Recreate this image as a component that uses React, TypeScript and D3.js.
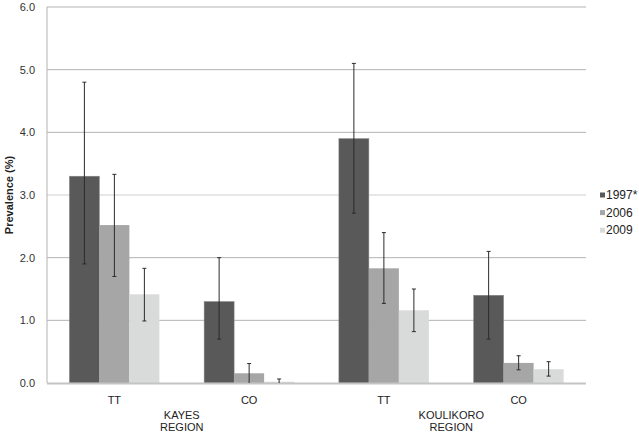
import React from "react";
import * as d3 from "d3";

const categories = ["KAYES TT", "KAYES CO", "KOULIKORO TT", "KOULIKORO CO"];
const catLabels = ["TT", "CO", "TT", "CO"];
const regions = [
  { name: ["KAYES", "REGION"], cats: [0, 1] },
  { name: ["KOULIKORO", "REGION"], cats: [2, 3] },
];
const seriesNames = ["1997*", "2006", "2009"];
const seriesColors = ["#595959", "#a6a6a6", "#d9dada"];
const values1997 = [3.3, 1.3, 3.9, 1.4];
const values2006 = [2.52, 0.155, 1.83, 0.32];
const values2009 = [1.415, 0.02, 1.16, 0.22];
const errLow1997 = [1.9, 0.7, 2.71, 0.7];
const errHigh1997 = [4.8, 2.0, 5.1, 2.1];
const errLow2006 = [1.7, 0.0, 1.27, 0.21];
const errHigh2006 = [3.33, 0.31, 2.4, 0.435];
const errLow2009 = [0.99, 0.0, 0.82, 0.11];
const errHigh2009 = [1.83, 0.064, 1.5, 0.34];
const yTicks = [0, 1, 2, 3, 4, 5, 6];

const series = [
  { name: seriesNames[0], values: values1997, lo: errLow1997, hi: errHigh1997 },
  { name: seriesNames[1], values: values2006, lo: errLow2006, hi: errHigh2006 },
  { name: seriesNames[2], values: values2009, lo: errLow2009, hi: errHigh2009 },
];

const W = 639;
const H = 435;
const left = 47;
const right = 586;
const top = 7;
const bottom = 383;

export default function App() {
  const x0 = d3.scaleBand<string>().domain(categories).range([left, right]).paddingInner(0).paddingOuter(0);
  const groupW = 90;
  const x1 = d3
    .scaleBand<string>()
    .domain(seriesNames)
    .range([(x0.bandwidth() - groupW) / 2, (x0.bandwidth() + groupW) / 2]);
  const y = d3.scaleLinear().domain([0, 6]).range([bottom, top]);
  const font = "'Liberation Sans', Arial, sans-serif";

  return (
    <svg
      width={W}
      height={H}
      style={{ position: "absolute", left: 0, top: 0, display: "block", background: "#fff" }}
      fontFamily={font}
    >
      {/* gridlines */}
      {yTicks.filter((t) => t > 0).map((t) => (
        <line key={t} x1={left} x2={right} y1={y(t)} y2={y(t)} stroke={t === 3 ? "#cfcfcf" : "#b3b3b3"} strokeWidth={1} />
      ))}
      {/* y axis */}
      <line x1={left} x2={left} y1={y(6)} y2={bottom} stroke="#b3b3b3" strokeWidth={1} />
      {yTicks.map((t) => (
        <text key={t} x={35} y={y(t)} dy="0.35em" textAnchor="end" fontSize={11} fill="#333">
          {t.toFixed(1)}
        </text>
      ))}
      <text
        transform={`translate(13,${(top + bottom) / 2}) rotate(-90)`}
        textAnchor="middle"
        fontSize={11}
        fontWeight="bold"
        fill="#222"
      >
        Prevalence (%)
      </text>
      {/* bars */}
      {categories.map((c, ci) => (
        <g key={c} transform={`translate(${x0(c)},0)`}>
          {series.map((s, si) => (
            <rect
              key={s.name}
              x={x1(s.name)}
              y={y(s.values[ci])}
              width={x1.bandwidth()}
              height={bottom - y(s.values[ci])}
              fill={seriesColors[si]}
              stroke={si === 0 ? "#8a8a8a" : "none"}
              strokeWidth={0.5}
            />
          ))}
        </g>
      ))}
      {/* x axis */}
      <line x1={left} x2={right} y1={bottom + 0.5} y2={bottom + 0.5} stroke="#c4c4c4" strokeWidth={2} />
      {/* error bars */}
      {categories.map((c, ci) => (
        <g key={c + "err"} transform={`translate(${x0(c)},0)`}>
          {series.map((s) => {
            const cx = (x1(s.name) as number) + x1.bandwidth() / 2;
            const yl = y(s.lo[ci]);
            const yh = y(s.hi[ci]);
            return (
              <g key={s.name} stroke="#2b2b2b" strokeWidth={1}>
                <line x1={cx} x2={cx} y1={yh} y2={yl} />
                <line x1={cx - 2} x2={cx + 2} y1={yh} y2={yh} />
                {s.lo[ci] > 0 && <line x1={cx - 2} x2={cx + 2} y1={yl} y2={yl} />}
              </g>
            );
          })}
        </g>
      ))}
      {/* category labels */}
      {categories.map((c, ci) => (
        <text key={c + "lbl"} x={(x0(c) as number) + x0.bandwidth() / 2} y={404} textAnchor="middle" fontSize={11} fill="#222">
          {catLabels[ci]}
        </text>
      ))}
      {regions.map((r) => {
        const cx =
          ((x0(categories[r.cats[0]]) as number) + (x0(categories[r.cats[1]]) as number) + x0.bandwidth()) / 2;
        return (
          <text key={r.name[0]} x={cx} textAnchor="middle" fontSize={11} fill="#222">
            <tspan x={cx} y={419}>{r.name[0]}</tspan>
            <tspan x={cx} y={431}>{r.name[1]}</tspan>
          </text>
        );
      })}
      {/* legend */}
      {seriesNames.map((n, i) => (
        <g key={n} transform={`translate(600,${195 + i * 17.6})`}>
          <rect x={0} y={-2.5} width={5} height={5} fill={seriesColors[i]} />
          <text x={6} y={0} dy="0.35em" fontSize={12} fill="#222">
            {n}
          </text>
        </g>
      ))}
    </svg>
  );
}
